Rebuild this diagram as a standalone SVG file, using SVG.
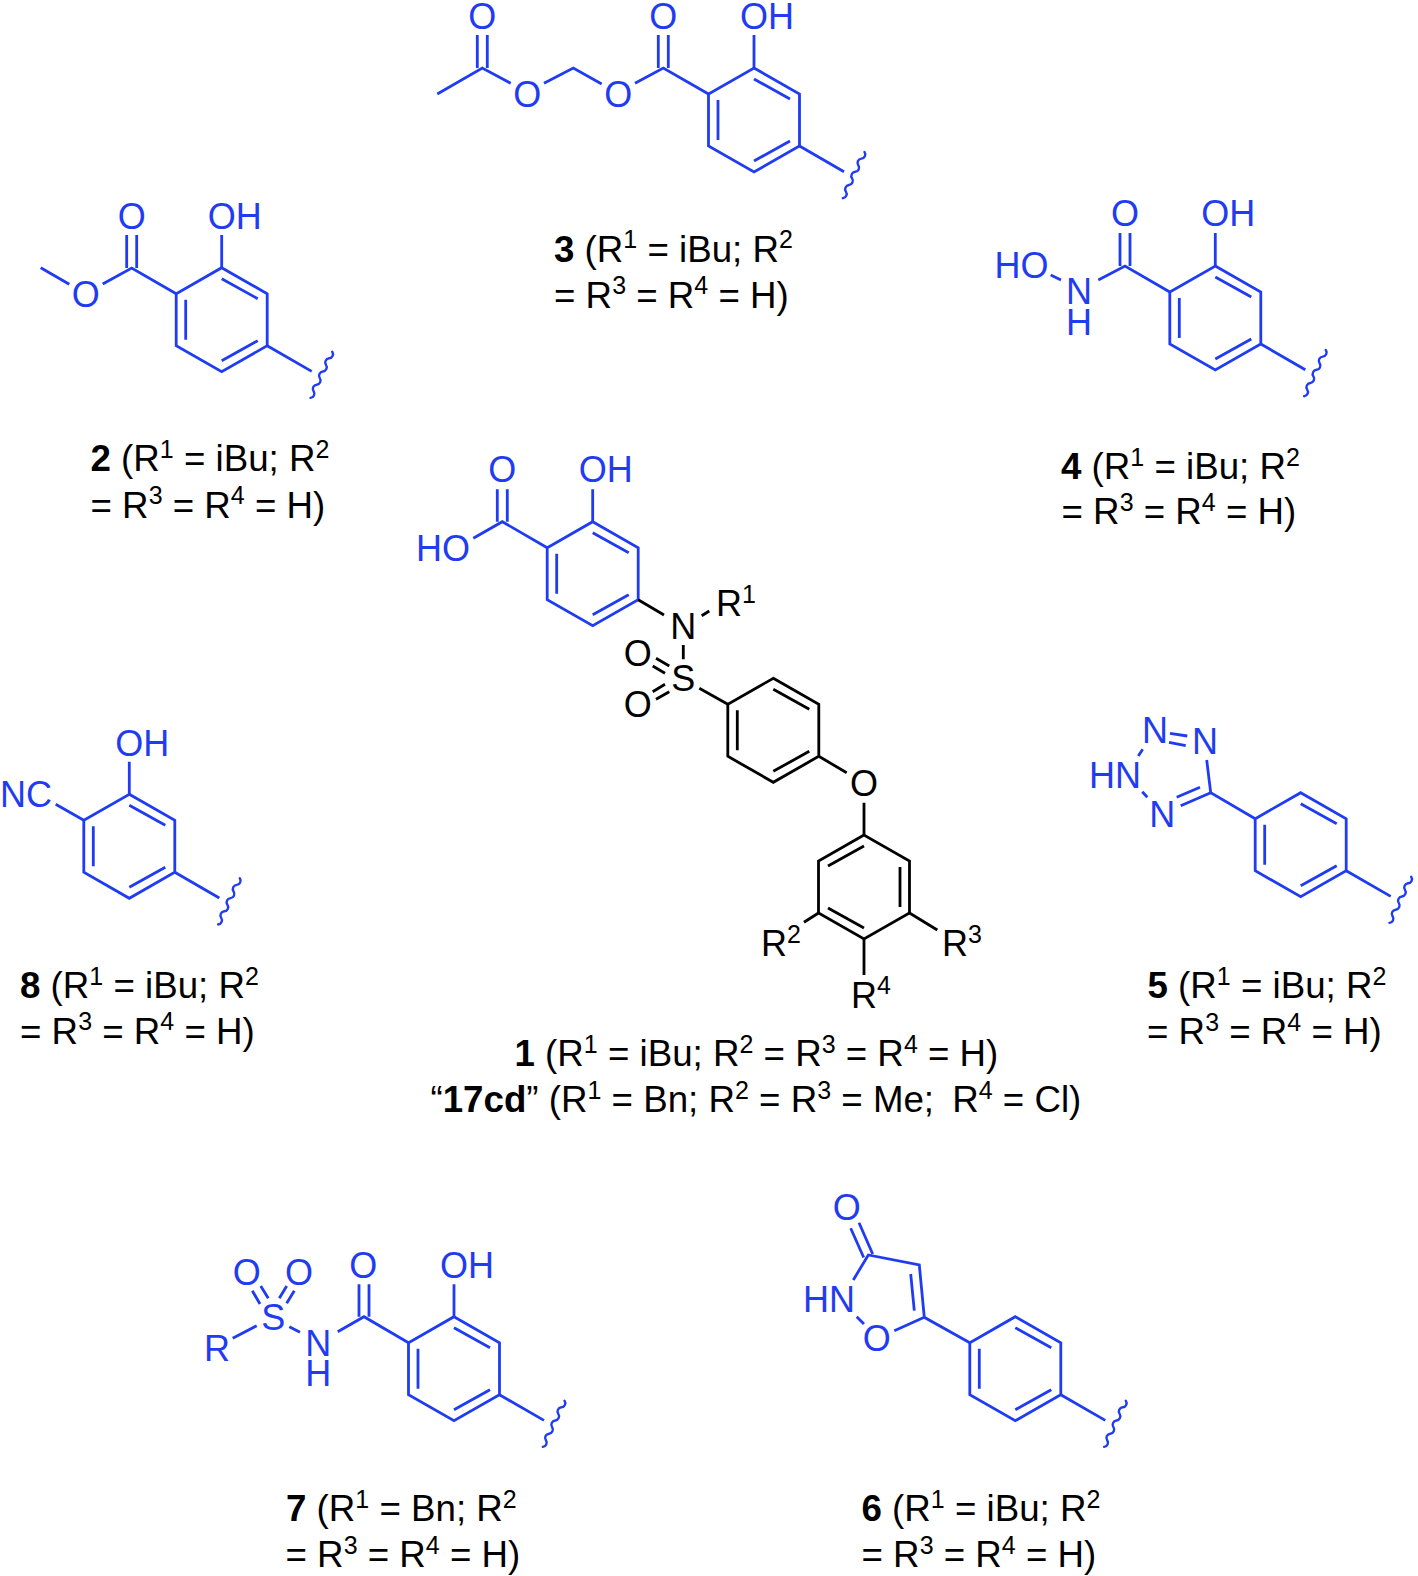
<svg xmlns="http://www.w3.org/2000/svg" width="1418" height="1576" viewBox="0 0 1418 1576">
<style>
text{font-family:"Liberation Sans",Arial,sans-serif;font-size:36px;stroke:none}
.m{text-anchor:middle}
.s{font-size:25px}
.bd{font-weight:700}
.bond{fill:none;stroke-width:2.8;stroke-linecap:butt;stroke-linejoin:miter}
.wave{fill:none;stroke-width:2.4;stroke-linecap:round}
.blue{fill:#1f3cf2;stroke:#1f3cf2}
.black{fill:#000;stroke:#000}
text.cap{fill:#000;font-size:36.7px}
</style>
<defs>
<g id="ring">
<path class="bond" d="M0,0L45.5,26V78L0,104L-45.5,78V26Z"/>
<path class="bond" d="M0,11L36,31M36,73L0,93M-36,32V72"/>
</g>
<g id="tail">
<path class="bond" d="M45.5,78L90,103.7"/>
<path class="wave" d="M110.5,84a4.2,4.2 0 0 1 -3.1,6.6a4.2,4.2 0 0 0 -3.1,6.6a4.2,4.2 0 0 1 -3.1,6.6a4.2,4.2 0 0 0 -3.1,6.6a4.2,4.2 0 0 1 -3.1,6.6a4.2,4.2 0 0 0 -3.1,6.6a4.2,4.2 0 0 1 -3.1,6.6"/>
</g>
</defs>
<rect width="1418" height="1576" fill="#fff"/>

<g id="compound-3">
<g class="blue">
<use href="#ring" x="754" y="68"/><use href="#tail" x="754" y="68"/>
<path class="bond" d="M754,68V35M708.5,94L663.3,68L635,83.3M658.3,68V35M668.3,68V35M601.7,84L573.3,68L544,83.3M510.7,83.3L482.3,68L437.3,94M477.3,68V35M487.3,68V35"/>
<text x="740" y="28.7">OH</text>
<text class="m" x="663.3" y="28.7">O</text>
<text class="m" x="482.3" y="28.7">O</text>
<text class="m" x="618.3" y="106.7">O</text>
<text class="m" x="527.3" y="106.7">O</text>
</g>
<text class="cap" x="554" y="261.5"><tspan class="bd">3</tspan> (R<tspan class="s" dy="-13.5">1</tspan><tspan dy="13.5"> = iBu; R</tspan><tspan class="s" dy="-13.5">2</tspan></text>
<text class="cap" x="554" y="307.5">= R<tspan class="s" dy="-13.5">3</tspan><tspan dy="13.5"> = R</tspan><tspan class="s" dy="-13.5">4</tspan><tspan dy="13.5"> = H)</tspan></text>
</g>

<g id="compound-2">
<g class="blue">
<use href="#ring" x="221.7" y="267.7"/><use href="#tail" x="221.7" y="267.7"/>
<path class="bond" d="M221.7,267.7V235M176.2,293.7L131.7,268L102.7,284M126.7,268V235M136.7,268V235M69.3,284.3L40.7,267.7"/>
<text x="207.7" y="228.7">OH</text>
<text class="m" x="131.7" y="228.7">O</text>
<text class="m" x="85.7" y="307">O</text>
</g>
<text class="cap" x="90.5" y="471"><tspan class="bd">2</tspan> (R<tspan class="s" dy="-13.5">1</tspan><tspan dy="13.5"> = iBu; R</tspan><tspan class="s" dy="-13.5">2</tspan></text>
<text class="cap" x="90.5" y="517.5">= R<tspan class="s" dy="-13.5">3</tspan><tspan dy="13.5"> = R</tspan><tspan class="s" dy="-13.5">4</tspan><tspan dy="13.5"> = H)</tspan></text>
</g>

<g id="compound-4">
<g class="blue">
<use href="#ring" x="1215.3" y="266"/><use href="#tail" x="1215.3" y="266"/>
<path class="bond" d="M1215.3,266V233M1169.8,292L1125,266L1098.3,280M1120,266V233M1130,266V233M1050.7,275L1061,280"/>
<text x="1201.3" y="226.2">OH</text>
<text class="m" x="1125" y="226.2">O</text>
<text class="m" x="1079" y="303.8">N<tspan x="1079" dy="30.7">H</tspan></text>
<text x="994.5" y="278.2">HO</text>
</g>
<text class="cap" x="1061" y="479"><tspan class="bd">4</tspan> (R<tspan class="s" dy="-13.5">1</tspan><tspan dy="13.5"> = iBu; R</tspan><tspan class="s" dy="-13.5">2</tspan></text>
<text class="cap" x="1061.5" y="524">= R<tspan class="s" dy="-13.5">3</tspan><tspan dy="13.5"> = R</tspan><tspan class="s" dy="-13.5">4</tspan><tspan dy="13.5"> = H)</tspan></text>
</g>

<g id="compound-1">
<g class="blue">
<use href="#ring" x="592.7" y="521.7"/>
<path class="bond" d="M592.7,521.7V489.3M547.2,547.7L502.3,521.7L473.3,538.3M497.3,521.7V489.3M507.3,521.7V489.3"/>
<text x="578.7" y="482.2">OH</text>
<text class="m" x="502.3" y="482.2">O</text>
<text x="416" y="560.5">HO</text>
</g>
<g class="black">
<use href="#ring" x="773.3" y="678.3"/>
<use href="#ring" transform="translate(864,835) scale(-1,1)"/>
<path class="bond" d="M638.2,599.7L664,615M701.7,615.7L709.3,611M683.3,645V659.3M656,658.3L669.3,666M652.7,666L665,673.3M656,699.3L669.3,691.7M652.7,691.7L665,684.3M699.3,688.3L727.8,704.3M818.8,756.3L846.7,772.7M864,802.7V835M818.5,913L804,922.3M909.5,913L937.3,930M864,939V975"/>
<text class="m" x="683.3" y="638.8">N</text>
<text x="716" y="616.2">R<tspan class="s" dy="-13.5">1</tspan></text>
<text class="m" x="683.3" y="691.2">S</text>
<text class="m" x="637.7" y="665.7">O</text>
<text class="m" x="637.7" y="716.7">O</text>
<text class="m" x="864" y="795.5">O</text>
<text x="761" y="956.2">R<tspan class="s" dy="-13.5">2</tspan></text>
<text x="942" y="956.2">R<tspan class="s" dy="-13.5">3</tspan></text>
<text x="851" y="1007.8">R<tspan class="s" dy="-13.5">4</tspan></text>
</g>
<text class="cap" x="514.5" y="1066"><tspan class="bd">1</tspan> (R<tspan class="s" dy="-13.5">1</tspan><tspan dy="13.5"> = iBu; R</tspan><tspan class="s" dy="-13.5">2</tspan><tspan dy="13.5"> = R</tspan><tspan class="s" dy="-13.5">3</tspan><tspan dy="13.5"> = R</tspan><tspan class="s" dy="-13.5">4</tspan><tspan dy="13.5"> = H)</tspan></text>
<text class="cap" x="430.5" y="1112">“<tspan class="bd">17cd</tspan>” (R<tspan class="s" dy="-13.5">1</tspan><tspan dy="13.5"> = Bn; R</tspan><tspan class="s" dy="-13.5">2</tspan><tspan dy="13.5"> = R</tspan><tspan class="s" dy="-13.5">3</tspan><tspan dy="13.5"> = Me;</tspan><tspan dx="8"> R</tspan><tspan class="s" dy="-13.5">4</tspan><tspan dy="13.5"> = Cl)</tspan></text>
</g>

<g id="compound-8">
<g class="blue">
<use href="#ring" x="129.3" y="794.3"/><use href="#tail" x="129.3" y="794.3"/>
<path class="bond" d="M129.3,794.3V761.7M83.8,820.3L55.7,804.3"/>
<text x="115.3" y="755.5">OH</text>
<text x="0" y="807.2">NC</text>
</g>
<text class="cap" x="20" y="998"><tspan class="bd">8</tspan> (R<tspan class="s" dy="-13.5">1</tspan><tspan dy="13.5"> = iBu; R</tspan><tspan class="s" dy="-13.5">2</tspan></text>
<text class="cap" x="20" y="1043.7">= R<tspan class="s" dy="-13.5">3</tspan><tspan dy="13.5"> = R</tspan><tspan class="s" dy="-13.5">4</tspan><tspan dy="13.5"> = H)</tspan></text>
</g>

<g id="compound-5">
<g class="blue">
<use href="#ring" x="1300.7" y="792.7"/><use href="#tail" x="1300.7" y="792.7"/>
<path class="bond" d="M1255.2,818.7L1210.7,792.7L1206.7,760M1170,733.3L1187.3,736M1169,742.3L1185.7,745.7M1200,787.3L1176.7,797.3M1210.7,792.7L1180.7,805.7M1142.7,749.3L1138.3,756M1142.3,791.7L1147.3,797.3"/>
<text class="m" x="1155" y="743">N</text>
<text class="m" x="1205" y="754">N</text>
<text x="1089" y="788.2">HN</text>
<text class="m" x="1162.3" y="827">N</text>
</g>
<text class="cap" x="1147.5" y="998"><tspan class="bd">5</tspan> (R<tspan class="s" dy="-13.5">1</tspan><tspan dy="13.5"> = iBu; R</tspan><tspan class="s" dy="-13.5">2</tspan></text>
<text class="cap" x="1147" y="1044">= R<tspan class="s" dy="-13.5">3</tspan><tspan dy="13.5"> = R</tspan><tspan class="s" dy="-13.5">4</tspan><tspan dy="13.5"> = H)</tspan></text>
</g>

<g id="compound-7">
<g class="blue">
<use href="#ring" x="454" y="1316.7"/><use href="#tail" x="454" y="1316.7"/>
<path class="bond" d="M454,1316.7V1284.3M408.5,1342.7L364,1316.7L337.7,1331.7M359,1316.7V1284.3M369,1316.7V1284.3M289.3,1326.7L300,1332.3M232.7,1338.3L256.7,1325.7M252.3,1290.7L260,1304M260.7,1286L268.3,1298.3M279.3,1298.3L286.7,1286M286.7,1303.3L294.3,1290.7"/>
<text x="440" y="1277.8">OH</text>
<text class="m" x="363.3" y="1277.8">O</text>
<text class="m" x="318.3" y="1355.5">N<tspan x="318.3" dy="30.7">H</tspan></text>
<text class="m" x="273.3" y="1329.7">S</text>
<text x="204" y="1360.5">R</text>
<text class="m" x="246.7" y="1284.7">O</text>
<text class="m" x="299" y="1284.7">O</text>
</g>
<text class="cap" x="286" y="1521"><tspan class="bd">7</tspan> (R<tspan class="s" dy="-13.5">1</tspan><tspan dy="13.5"> = Bn; R</tspan><tspan class="s" dy="-13.5">2</tspan></text>
<text class="cap" x="285.5" y="1567">= R<tspan class="s" dy="-13.5">3</tspan><tspan dy="13.5"> = R</tspan><tspan class="s" dy="-13.5">4</tspan><tspan dy="13.5"> = H)</tspan></text>
</g>

<g id="compound-6">
<g class="blue">
<use href="#ring" x="1015.3" y="1316.7"/><use href="#tail" x="1015.3" y="1316.7"/>
<path class="bond" d="M969.8,1342.7L924.3,1317.3L919.3,1265L868.3,1255L853.3,1280M872.7,1254L859,1222.7M863.7,1257.5L850.7,1228.3M856.7,1316.7L864,1324M894.3,1330.7L924.3,1317.3M910.7,1274L914.3,1310.7"/>
<text class="m" x="846.7" y="1219.7">O</text>
<text x="803" y="1312.2">HN</text>
<text class="m" x="876.7" y="1351.2">O</text>
</g>
<text class="cap" x="861.5" y="1521"><tspan class="bd">6</tspan> (R<tspan class="s" dy="-13.5">1</tspan><tspan dy="13.5"> = iBu; R</tspan><tspan class="s" dy="-13.5">2</tspan></text>
<text class="cap" x="861.5" y="1567">= R<tspan class="s" dy="-13.5">3</tspan><tspan dy="13.5"> = R</tspan><tspan class="s" dy="-13.5">4</tspan><tspan dy="13.5"> = H)</tspan></text>
</g>
</svg>
